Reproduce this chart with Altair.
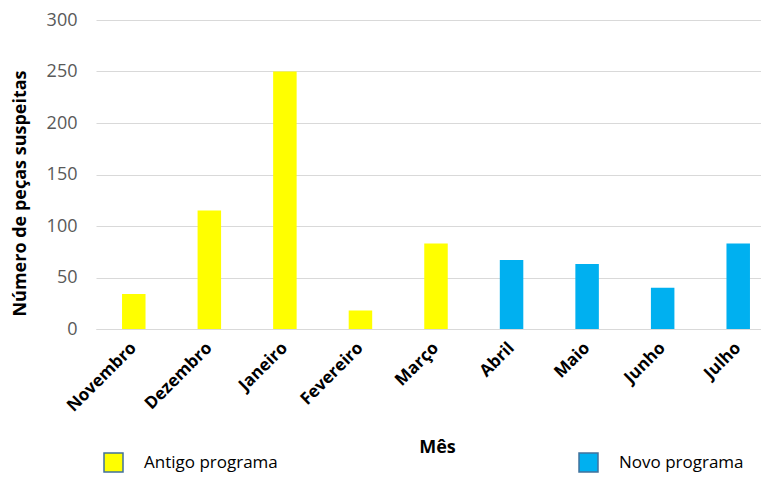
import altair as alt
import pandas as pd

months = ["Novembro", "Dezembro", "Janeiro", "Fevereiro", "Março",
          "Abril", "Maio", "Junho", "Julho"]
values = [34, 115, 250, 18, 83, 67, 63, 40, 83]
programs = ["Antigo programa", "Antigo programa", "Antigo programa",
            "Antigo programa", "Antigo programa",
            "Novo programa", "Novo programa", "Novo programa", "Novo programa"]
program_names = ["Antigo programa", "Novo programa"]
program_colors = ["#FFFF00", "#00B0F0"]
y_ticks = [0, 50, 100, 150, 200, 250, 300]

df = pd.DataFrame({"Mês": months, "Valor": values, "Programa": programs})

FONT = "Open Sans"

chart = alt.Chart(df).mark_bar(size=23.5).encode(
    x=alt.X("Mês:N", sort=months,
            scale=alt.Scale(range=[0, 680], paddingInner=0, paddingOuter=0),
            axis=alt.Axis(title="Mês", labelAngle=-45, labelAlign="right",
                          labelBaseline="middle", labelPadding=16,
                          labelFont=FONT, labelFontSize=17, labelFontWeight="bold",
                          labelColor="#000000", ticks=False, tickSize=0,
                          domainColor="#D9D9D9", domainWidth=1,
                          titleFont=FONT, titleFontSize=18, titleFontWeight="bold",
                          titleColor="#000000", titleX=341, titleY=118,
                          titleBaseline="middle", titleAlign="center")),
    y=alt.Y("Valor:Q", scale=alt.Scale(domain=[0, 300], nice=False),
            axis=alt.Axis(title="Número de peças suspeitas", values=y_ticks,
                          grid=True, gridColor="#D9D9D9", gridWidth=1,
                          domain=False, ticks=False, tickSize=0, labelPadding=19,
                          labelFont=FONT, labelFontSize=18, labelColor="#595959",
                          titleFont=FONT, titleFontSize=18, titleFontWeight="bold",
                          titleColor="#000000", titleAngle=-90, titleX=-76,
                          titleY=173, titleBaseline="middle", titleAlign="center")),
    color=alt.Color("Programa:N",
                    scale=alt.Scale(domain=program_names, range=program_colors),
                    legend=alt.Legend(title=None, orient="none", legendX=7,
                                      legendY=432, direction="horizontal",
                                      columns=2, columnPadding=298,
                                      symbolType="square", symbolSize=361,
                                      symbolStrokeColor="#41719C",
                                      symbolStrokeWidth=1.5, labelOffset=20,
                                      labelFont=FONT, labelFontSize=17,
                                      labelColor="#000000")),
).properties(
    width=665, height=309,
    background="#FFFFFF",
    autosize=alt.AutoSizeParams(type="none"),
    padding={"left": 88, "top": 12, "right": 0, "bottom": 149},
).configure_view(stroke=None)

chart.save("out.html", embed_options={"renderer": "svg", "actions": False})
